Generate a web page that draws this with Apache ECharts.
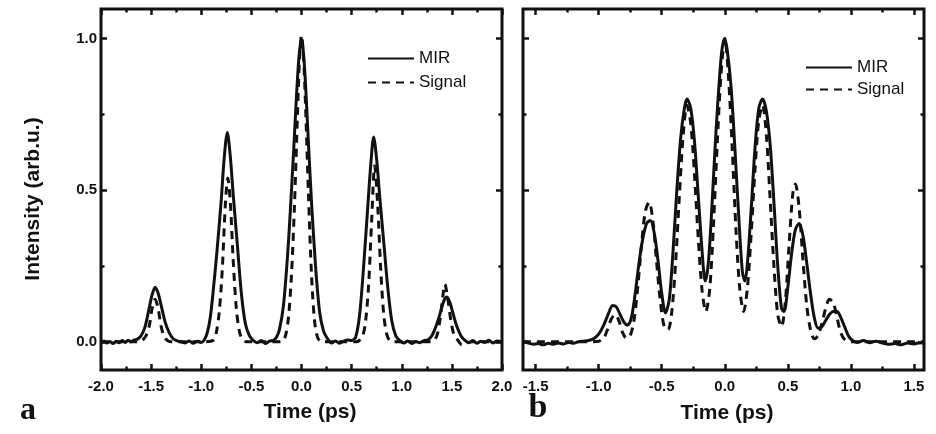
<!DOCTYPE html>
<html>
<head>
<meta charset="utf-8">
<script src="https://cdn.jsdelivr.net/npm/echarts@6/dist/echarts.min.js"></script>
<style>html,body{margin:0;padding:0;background:#fff}#c{width:936px;height:434px}</style>
</head>
<body>
<div id="c"></div>
<script>
// ---- Panel a data (Time ps, Intensity) ----
const mirA = [
[-2.00,-0.002],[-1.97,0.003],[-1.94,-0.004],[-1.91,0.001],[-1.88,-0.006],[-1.85,0.002],[-1.82,-0.003],[-1.79,0.004],[-1.76,-0.002],[-1.73,0.005],[-1.70,0.000],[-1.67,0.006],
[-1.64,0.008],[-1.60,0.02],[-1.56,0.05],[-1.52,0.11],[-1.49,0.155],[-1.46,0.18],[-1.43,0.16],[-1.40,0.12],[-1.36,0.065],[-1.32,0.03],[-1.28,0.01],[-1.24,0.003],
[-1.20,0.0],[-1.16,-0.004],[-1.12,0.003],[-1.08,-0.005],[-1.04,0.002],[-1.00,-0.002],[-0.97,0.006],
[-0.94,0.03],[-0.91,0.08],[-0.88,0.17],[-0.84,0.31],[-0.80,0.47],[-0.77,0.61],[-0.74,0.69],[-0.71,0.61],[-0.68,0.48],[-0.64,0.32],[-0.60,0.16],[-0.56,0.06],[-0.52,0.02],[-0.48,0.004],
[-0.44,-0.003],[-0.40,0.004],[-0.36,-0.006],[-0.32,0.002],[-0.28,0.005],
[-0.25,0.015],[-0.22,0.04],[-0.18,0.12],[-0.14,0.28],[-0.11,0.44],[-0.08,0.62],[-0.05,0.81],[-0.025,0.94],[0.0,1.0],[0.02,0.95],[0.04,0.85],[0.07,0.65],[0.10,0.46],[0.14,0.25],[0.18,0.10],[0.22,0.035],[0.26,0.01],
[0.30,-0.004],[0.34,0.003],[0.38,-0.005],[0.42,0.002],[0.46,0.006],[0.50,0.004],
[0.54,0.015],[0.58,0.09],[0.62,0.25],[0.66,0.44],[0.69,0.58],[0.72,0.675],[0.75,0.60],[0.78,0.48],[0.82,0.33],[0.86,0.18],[0.90,0.07],[0.94,0.02],[0.98,0.004],
[1.02,-0.004],[1.06,0.003],[1.10,-0.006],[1.14,0.001],[1.18,-0.003],[1.22,0.004],[1.26,0.006],
[1.30,0.02],[1.34,0.05],[1.38,0.09],[1.42,0.135],[1.45,0.148],[1.48,0.13],[1.51,0.095],[1.55,0.05],[1.59,0.02],[1.63,0.005],
[1.67,-0.003],[1.71,0.004],[1.75,-0.005],[1.79,0.002],[1.83,-0.002],[1.87,0.005],[1.91,-0.004],[1.95,0.003],[2.00,0.0]
];
const sigA = [
[-2.00,0],[-1.62,0],[-1.56,0.015],[-1.52,0.05],[-1.49,0.11],[-1.46,0.14],[-1.43,0.11],[-1.40,0.05],[-1.36,0.012],[-1.30,0],
[-0.98,0],[-0.88,0.005],[-0.85,0.03],[-0.82,0.10],[-0.79,0.24],[-0.76,0.45],[-0.735,0.54],[-0.71,0.46],[-0.68,0.26],[-0.65,0.11],[-0.62,0.035],[-0.59,0.008],[-0.55,0],
[-0.20,0],[-0.16,0.02],[-0.13,0.08],[-0.10,0.22],[-0.07,0.45],[-0.04,0.75],[-0.02,0.93],[0.0,1.01],[0.02,0.94],[0.04,0.78],[0.07,0.48],[0.10,0.22],[0.13,0.07],[0.16,0.015],[0.20,0],
[0.55,0],[0.61,0.02],[0.64,0.07],[0.67,0.19],[0.70,0.40],[0.73,0.58],[0.76,0.45],[0.79,0.24],[0.82,0.09],[0.85,0.025],[0.88,0.004],[0.92,0],
[1.30,0],[1.35,0.02],[1.38,0.07],[1.41,0.15],[1.43,0.19],[1.46,0.14],[1.49,0.07],[1.52,0.025],[1.56,0.005],[1.60,-0.01],[1.64,-0.005],[1.70,0],[2.00,0]
];
// ---- Panel b data ----
const mirB = [
[-1.60,0.003],[-1.56,-0.004],[-1.52,-0.008],[-1.48,-0.006],[-1.44,-0.01],[-1.40,-0.005],[-1.36,-0.008],[-1.32,-0.004],[-1.28,-0.007],[-1.24,-0.002],[-1.20,-0.005],[-1.16,0.0],[-1.12,0.002],[-1.08,0.004],
[-1.04,0.01],[-1.00,0.025],[-0.96,0.055],[-0.92,0.095],[-0.89,0.12],[-0.86,0.115],[-0.83,0.09],[-0.80,0.065],[-0.77,0.055],[-0.74,0.08],[-0.71,0.16],[-0.68,0.26],[-0.65,0.34],[-0.62,0.39],[-0.59,0.40],[-0.56,0.36],[-0.53,0.27],[-0.50,0.16],[-0.47,0.095],[-0.44,0.14],[-0.41,0.30],[-0.38,0.50],[-0.35,0.67],[-0.32,0.77],[-0.30,0.80],[-0.27,0.77],[-0.24,0.66],[-0.21,0.48],[-0.18,0.30],[-0.155,0.20],[-0.13,0.26],[-0.10,0.46],[-0.07,0.69],[-0.04,0.88],[-0.02,0.97],[0.0,1.0],[0.02,0.96],[0.05,0.84],[0.08,0.64],[0.11,0.42],[0.14,0.23],[0.16,0.20],[0.18,0.26],[0.21,0.44],[0.24,0.64],[0.27,0.77],[0.30,0.80],[0.33,0.76],[0.36,0.65],[0.39,0.46],[0.42,0.25],[0.45,0.11],[0.47,0.10],[0.50,0.18],[0.53,0.29],[0.56,0.37],[0.59,0.39],[0.62,0.35],[0.65,0.26],[0.68,0.16],[0.71,0.08],[0.74,0.045],[0.77,0.05],[0.80,0.07],[0.83,0.09],[0.86,0.10],[0.89,0.10],[0.92,0.08],[0.95,0.05],[0.98,0.02],[1.01,0.005],
[1.05,-0.002],[1.10,0.004],[1.15,-0.003],[1.20,0.002],[1.25,-0.004],[1.30,-0.008],[1.35,-0.006],[1.40,-0.01],[1.45,-0.004],[1.50,-0.007],[1.55,-0.003],[1.58,-0.005]
];
const sigB = [
[-1.60,0],[-1.10,0],[-1.00,0.002],[-0.96,0.012],[-0.93,0.04],[-0.90,0.075],[-0.87,0.09],[-0.84,0.07],[-0.81,0.03],[-0.78,0.012],[-0.75,0.02],[-0.72,0.07],[-0.69,0.18],[-0.66,0.32],[-0.63,0.43],[-0.60,0.46],[-0.57,0.40],[-0.54,0.26],[-0.51,0.13],[-0.48,0.05],[-0.45,0.04],[-0.42,0.10],[-0.39,0.26],[-0.36,0.48],[-0.33,0.68],[-0.30,0.78],[-0.27,0.72],[-0.24,0.55],[-0.21,0.34],[-0.18,0.17],[-0.15,0.10],[-0.12,0.17],[-0.09,0.38],[-0.06,0.65],[-0.03,0.88],[0.0,1.0],[0.03,0.87],[0.06,0.63],[0.09,0.36],[0.12,0.17],[0.15,0.10],[0.18,0.18],[0.21,0.36],[0.24,0.57],[0.27,0.73],[0.30,0.78],[0.33,0.68],[0.36,0.47],[0.39,0.25],[0.42,0.09],[0.45,0.05],[0.48,0.13],[0.51,0.32],[0.54,0.49],[0.56,0.52],[0.59,0.44],[0.62,0.27],[0.65,0.12],[0.68,0.04],[0.71,0.01],[0.74,0.02],[0.77,0.06],[0.80,0.11],[0.83,0.14],[0.86,0.13],[0.89,0.08],[0.92,0.03],[0.95,0.008],[1.00,0],[1.58,0]
];
// ---- ticks ----
const xMajorA = [-2.0,-1.5,-1.0,-0.5,0.0,0.5,1.0,1.5,2.0];
const xMinorA = [-1.75,-1.25,-0.75,-0.25,0.25,0.75,1.25,1.75];
const xMajorB = [-1.5,-1.0,-0.5,0.0,0.5,1.0,1.5];
const xMinorB = [-1.25,-0.75,-0.25,0.25,0.75,1.25];
const yMajor = [0.0,0.5,1.0];
const yMinor = [0.25,0.75];
const seriesNames = ['MIR','Signal'];

const INK = '#111';
const labelFont = {fontFamily:'Liberation Sans', fontWeight:'bold', fontSize:15, color:INK};

function mkAxes(dim, grid, min, max, majors, minors, labelPos) {
  const positions = dim === 'x' ? ['bottom','top'] : ['left','right'];
  const out = [];
  positions.forEach(pos => {
    [[majors,6],[minors,3.5]].forEach(([vals,len]) => {
      out.push({
        type:'value', gridIndex:grid, min:min, max:max, position:pos, offset:0,
        axisLine:{show:false, onZero:false}, splitLine:{show:false},
        axisTick:{show:true, inside:true, length:len, customValues:vals, lineStyle:{color:INK,width:2.5}},
        axisLabel: (pos === labelPos && vals === majors) ?
          Object.assign({show:true, customValues:vals, margin:dim==='x'?9:4, formatter:v=>v.toFixed(1)}, labelFont) :
          {show:false}
      });
    });
  });
  return out;
}

const xAxes = [].concat(
  mkAxes('x',0,-2,2,xMajorA,xMinorA,'bottom'),
  mkAxes('x',1,-1.6,1.58,xMajorB,xMinorB,'bottom')
);
const yAxes = [].concat(
  mkAxes('y',0,-0.093,1.097,yMajor,yMinor,'left'),
  mkAxes('y',1,-0.093,1.097,yMajor,yMinor,'none')
);

function line(name, data, xi, yi, dashed) {
  return {
    name:name, type:'line', data:data, xAxisIndex:xi, yAxisIndex:yi,
    symbol:'none', showSymbol:false, smooth:0.3, animation:false,
    lineStyle:{color:INK, width:3, type:dashed?[8,6]:'solid'},
    itemStyle:{color:INK}
  };
}

const legendText = {fontFamily:'Liberation Sans', fontSize:17, color:INK};
const chart = echarts.init(document.getElementById('c'), null, {renderer:'canvas'});
chart.setOption({
  animation:false,
  backgroundColor:'#fff',
  grid:[
    {left:101, right:434, top:9, bottom:64, show:true, borderColor:INK, borderWidth:3},
    {left:523, right:12, top:9, bottom:64, show:true, borderColor:INK, borderWidth:3}
  ],
  xAxis:xAxes,
  yAxis:yAxes,
  legend:[
    {data:seriesNames, orient:'vertical', left:362, top:45, itemWidth:46, itemHeight:16, itemGap:7,
     itemStyle:{opacity:0}, textStyle:legendText},
    {data:seriesNames, orient:'vertical', left:800, top:54, itemWidth:46, itemHeight:16, itemGap:5,
     itemStyle:{opacity:0}, textStyle:legendText}
  ],
  series:[
    line('MIR', mirA, 0, 0, false),
    line('Signal', sigA, 0, 0, true),
    line('MIR', mirB, 4, 4, false),
    line('Signal', sigB, 4, 4, true)
  ],
  graphic:[
    {type:'text', x:33, y:199, rotation:Math.PI/2,
     style:{text:'Intensity (arb.u.)', fontFamily:'Liberation Sans', fontWeight:'bold', fontSize:21, fill:INK, align:'center', verticalAlign:'middle'}},
    {type:'text', x:310, y:412,
     style:{text:'Time (ps)', fontFamily:'Liberation Sans', fontWeight:'bold', fontSize:21, fill:INK, align:'center', verticalAlign:'middle'}},
    {type:'text', x:727, y:413,
     style:{text:'Time (ps)', fontFamily:'Liberation Sans', fontWeight:'bold', fontSize:21, fill:INK, align:'center', verticalAlign:'middle'}},
    {type:'text', x:28, y:411,
     style:{text:'a', fontFamily:'Liberation Serif', fontWeight:'bold', fontSize:32, fill:INK, align:'center', verticalAlign:'middle'}},
    {type:'text', x:538, y:408,
     style:{text:'b', fontFamily:'Liberation Serif', fontWeight:'bold', fontSize:34, fill:INK, align:'center', verticalAlign:'middle'}}
  ]
});
</script>
</body>
</html>
